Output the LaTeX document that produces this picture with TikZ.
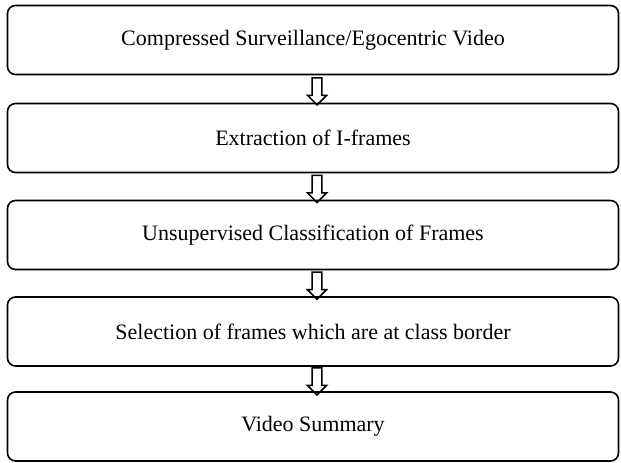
\documentclass[tikz,border=0pt]{standalone}
\usepackage{fontspec}
\setmainfont{Liberation Serif}
\usetikzlibrary{shapes.arrows,calc}
\tikzset{
  stage/.style={draw, line width=1.6pt, rounded corners=8pt, minimum width=611pt, minimum height=69pt, inner sep=0pt, font=\fontsize{22}{26}\selectfont},
  flow/.style={single arrow, draw, line width=1.5pt, shape border rotate=270, minimum height=27pt, minimum width=19pt, single arrow head extend=4pt, single arrow head indent=0pt, inner sep=3.5pt},
}
\begin{document}
\begin{tikzpicture}[x=1pt,y=1pt]
\useasboundingbox (0,0) rectangle (621,463);
\node[stage] (st0) at (313,423){Compressed Surveillance/Egocentric Video};
\node[stage] (st1) at (313,325){Extraction of I-frames};
\node[stage] (st2) at (313,228){Unsupervised Classification of Frames};
\node[stage] (st3) at (313,131.5){Selection of frames which are at class border};
\node[stage] (st4) at (313,36.5){Video Summary};
\node[flow] (ar0) at ($(st0.south)!0.5!(st1.north)+(4,0)$){};
\node[flow] (ar1) at ($(st1.south)!0.5!(st2.north)+(4,0)$){};
\node[flow] (ar2) at ($(st2.south)!0.5!(st3.north)+(4,0)$){};
\node[flow] (ar3) at ($(st3.south)!0.5!(st4.north)+(4,0)$){};
\end{tikzpicture}
\end{document}
